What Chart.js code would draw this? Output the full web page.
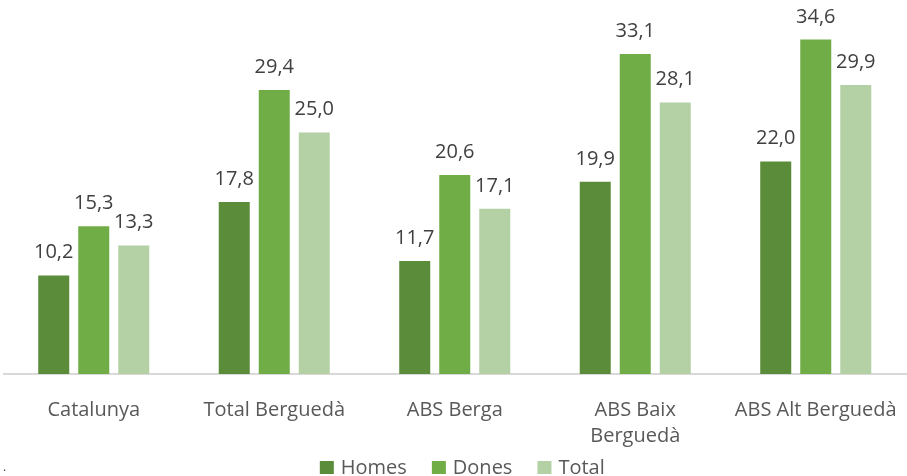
<!DOCTYPE html>
<html>
<head>
<meta charset="utf-8">
<script src="https://cdn.jsdelivr.net/npm/chart.js@4/dist/chart.umd.min.js"></script>
<style>
  html, body { margin: 0; padding: 0; background: #fff; }
  #wrap { width: 907px; height: 476px; position: relative; }
</style>
</head>
<body>
<div id="wrap"><canvas id="c"></canvas></div>
<script>
const categories = ["Catalunya", "Total Berguedà", "ABS Berga", ["ABS Baix", "Berguedà"], "ABS Alt Berguedà"];
const seriesNames = ["Homes", "Dones", "Total"];
const homes = [10.2, 17.8, 11.7, 19.9, 22.0];
const dones = [15.3, 29.4, 20.6, 33.1, 34.6];
const total = [13.3, 25.0, 17.1, 28.1, 29.9];
const colors = ['#5B8C3A', '#70AD47', '#B4D0A5'];

const FONT = "'Open Sans', 'Liberation Sans', sans-serif";

// Legend swatch: a small square sitting close to its label
const SWATCH_SLOT = 26;
function makeSwatch(color) {
  const c = document.createElement('canvas');
  c.width = SWATCH_SLOT + 10;
  c.height = 14;
  const g = c.getContext('2d');
  g.fillStyle = color;
  g.fillRect(c.width - 16, 0, 14, 13);
  return c;
}
const swatches = colors.map(makeSwatch);

// Value labels above each bar, written with a decimal comma
const valueLabels = {
  id: 'valueLabels',
  afterDatasetsDraw(chart) {
    const ctx = chart.ctx;
    ctx.save();
    ctx.font = "20px " + FONT;
    ctx.fillStyle = '#404040';
    ctx.textAlign = 'center';
    ctx.textBaseline = 'alphabetic';
    chart.data.datasets.forEach((ds, i) => {
      chart.getDatasetMeta(i).data.forEach((bar, j) => {
        ctx.fillText(ds.data[j].toFixed(1).replace('.', ','), bar.x, bar.y - 17);
      });
    });
    ctx.restore();
  }
};

// Small footnote mark in the lower-left corner
const cornerMark = {
  id: 'cornerMark',
  afterDraw(chart) {
    const ctx = chart.ctx;
    ctx.save();
    ctx.font = "12px " + FONT;
    ctx.fillStyle = '#404040';
    ctx.textBaseline = 'alphabetic';
    ctx.fillText('.', 3, 471);
    ctx.restore();
  }
};

new Chart(document.getElementById('c'), {
  type: 'bar',
  data: {
    labels: categories,
    datasets: [
      { label: seriesNames[0], data: homes, backgroundColor: colors[0] },
      { label: seriesNames[1], data: dones, backgroundColor: colors[1] },
      { label: seriesNames[2], data: total, backgroundColor: colors[2] }
    ]
  },
  options: {
    responsive: true,
    maintainAspectRatio: false,
    animation: false,
    layout: { padding: { left: 3.5, right: 1, top: 0, bottom: 0 } },
    datasets: { bar: { categoryPercentage: 0.665, barPercentage: 0.775 } },
    scales: {
      x: {
        grid: { display: false, drawTicks: false },
        border: { display: true, color: '#D9D9D9', width: 2 },
        ticks: { color: '#595959', font: { family: FONT, size: 20, lineHeight: 1.3 }, padding: 23, maxRotation: 0, autoSkip: false },
        afterFit(scale) {
          scale.height = 74;
          scale.paddingLeft = 0;
          scale.paddingRight = 0;
        }
      },
      y: {
        display: false,
        min: 0,
        max: 38.7
      }
    },
    plugins: {
      legend: {
        position: 'bottom',
        maxHeight: 28,
        labels: {
          color: '#595959',
          font: { family: FONT, size: 20 },
          usePointStyle: true,
          pointStyleWidth: SWATCH_SLOT,
          boxHeight: 14,
          padding: 10,
          generateLabels(chart) {
            const items = Chart.defaults.plugins.legend.labels.generateLabels(chart);
            items.forEach((it, i) => { it.pointStyle = swatches[i]; });
            return items;
          }
        }
      },
      tooltip: { enabled: false }
    }
  },
  plugins: [valueLabels, cornerMark]
});
</script>
</body>
</html>
